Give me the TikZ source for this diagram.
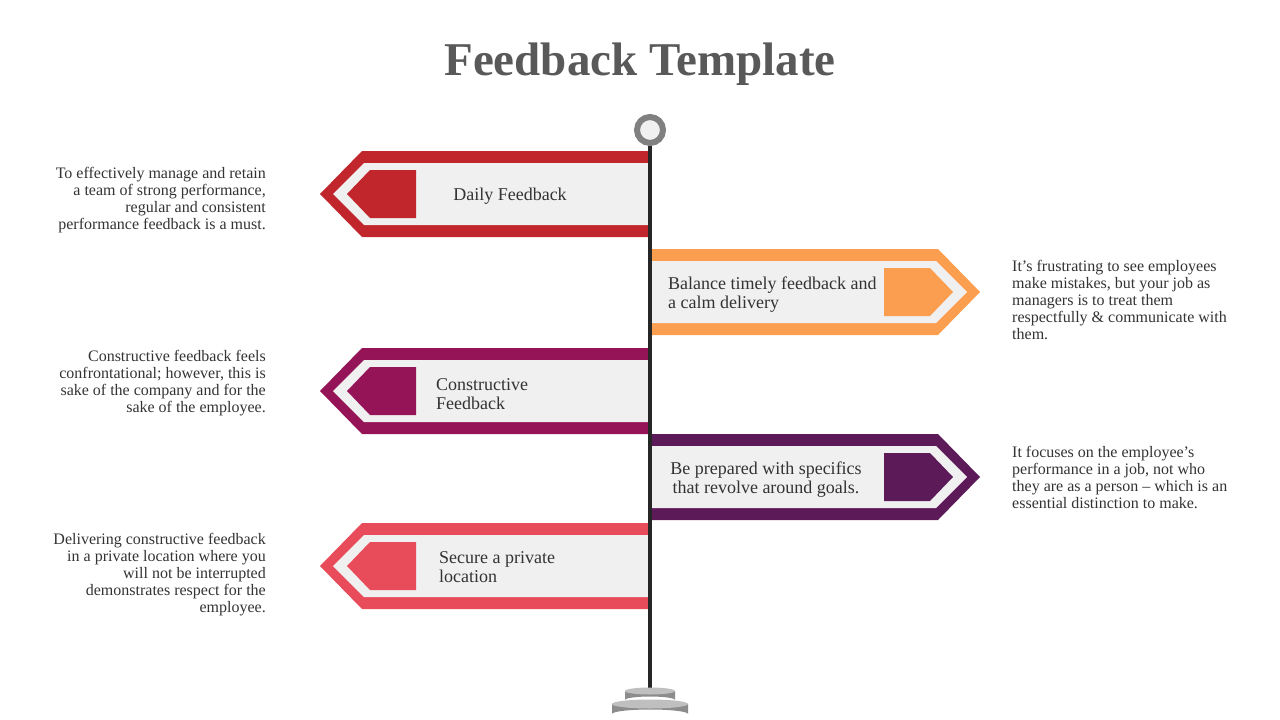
\documentclass[tikz,border=0pt]{standalone}
\usepackage{fontspec}
\setmainfont{Liberation Serif}
\usepackage{tikz}
\usetikzlibrary{positioning}
\definecolor{signred}{HTML}{C0262B}
\definecolor{signorange}{HTML}{FB9E4F}
\definecolor{signplum}{HTML}{951457}
\definecolor{signpurple}{HTML}{5C1A58}
\definecolor{signpink}{HTML}{E84C5B}
\definecolor{bandgray}{HTML}{F0F0F0}
\definecolor{ink}{HTML}{333333}
\definecolor{titlegray}{HTML}{595959}
\definecolor{ringgray}{HTML}{808080}
\tikzset{
  titletext/.style={font=\fontsize{47}{50}\selectfont\bfseries, text=titlegray},
  signtext/.style={font=\fontsize{18}{19}\selectfont, text=ink,
    align=left, inner sep=0pt},
  sidetext/.style={font=\fontsize{16}{17}\selectfont, text=ink, inner sep=0pt},
  leftnote/.style={sidetext, anchor=east, align=right},
  rightnote/.style={sidetext, anchor=west, align=left},
  band/.style={fill=bandgray},
  pole/.style={draw=black!85, line width=4pt},
  baseside/.style={fill=black!45},
  basetop/.style={fill=black!25},
}

\begin{document}
\begin{tikzpicture}[x=1pt, y=-1pt]
  \useasboundingbox (0,0) rectangle (1280,720);

  % Title
  \node[titletext] (title) at (640,64) {Feedback Template};

  % Signs pointing left
  \foreach \cy/\col in {194/signred, 391/signplum, 566/signpink}{
    \fill[\col] (648,\cy-43) -- (362,\cy-43) -- (320,\cy) -- (362,\cy+43) -- (648,\cy+43) -- cycle;
    \fill[band] (648,\cy-31) -- (364,\cy-31) -- (333,\cy) -- (364,\cy+31) -- (648,\cy+31) -- cycle;
    \fill[\col] (416,\cy-24) -- (370,\cy-24) -- (347,\cy) -- (370,\cy+24) -- (416,\cy+24) -- cycle;
  }

  % Signs pointing right
  \foreach \cy/\col in {292/signorange, 477/signpurple}{
    \fill[\col] (652,\cy-43) -- (938,\cy-43) -- (980,\cy) -- (938,\cy+43) -- (652,\cy+43) -- cycle;
    \fill[band] (652,\cy-31) -- (936,\cy-31) -- (967,\cy) -- (936,\cy+31) -- (652,\cy+31) -- cycle;
    \fill[\col] (884,\cy-24) -- (930,\cy-24) -- (953,\cy) -- (930,\cy+24) -- (884,\cy+24) -- cycle;
  }

  % Pole, knob and base
  \node[circle, draw=ringgray, line width=6pt, fill=bandgray,
        minimum size=26pt, inner sep=0pt] (knob) at (650,130) {};
  \coordinate (stand) at (650,691);
  \draw[pole] (knob.south) -- (stand);
  \fill[baseside] (612,704) -- (612,714) arc[start angle=180, end angle=360, x radius=38, y radius=4.5]
    -- (688,704) -- cycle;
  \fill[basetop] (650,704) ellipse[x radius=38, y radius=4.5];
  \fill[baseside] (625,691) -- (625,700) arc[start angle=180, end angle=360, x radius=25, y radius=3.5]
    -- (675,691) -- cycle;
  \fill[basetop] (650,691) ellipse[x radius=25, y radius=3.5];

  % Texts on the signs
  \node[signtext] (daily) at (510,196) {Daily Feedback};
  \node[signtext, anchor=west] (balance) at (668,295) {Balance timely feedback and\\a calm delivery};
  \node[signtext, anchor=west] (constr) at (436,394) {Constructive\\Feedback};
  \node[signtext, align=center] (prepared) at (766,480) {Be prepared with specifics\\that revolve around goals.};
  \node[signtext, anchor=west] (secure) at (439,567) {Secure a private\\location};

  % Notes beside the signs
  \node[leftnote] (notedaily) at (266,200) {To effectively manage and retain\\a team of strong performance,\\regular and consistent\\performance feedback is a must.};
  \node[rightnote] (notebalance) at (1012,300) {It's frustrating to see employees\\make mistakes, but your job as\\managers is to treat them\\respectfully \& communicate with\\them.};
  \node[leftnote] (noteconstr) at (266,383) {Constructive feedback feels\\confrontational; however, this is\\sake of the company and for the\\sake of the employee.};
  \node[rightnote] (noteprepared) at (1012,477) {It focuses on the employee's\\performance in a job, not who\\they are as a person -- which is an\\essential distinction to make.};
  \node[leftnote] (notesecure) at (266,575) {Delivering constructive feedback\\in a private location where you\\will not be interrupted\\demonstrates respect for the\\employee.};
\end{tikzpicture}
\end{document}
